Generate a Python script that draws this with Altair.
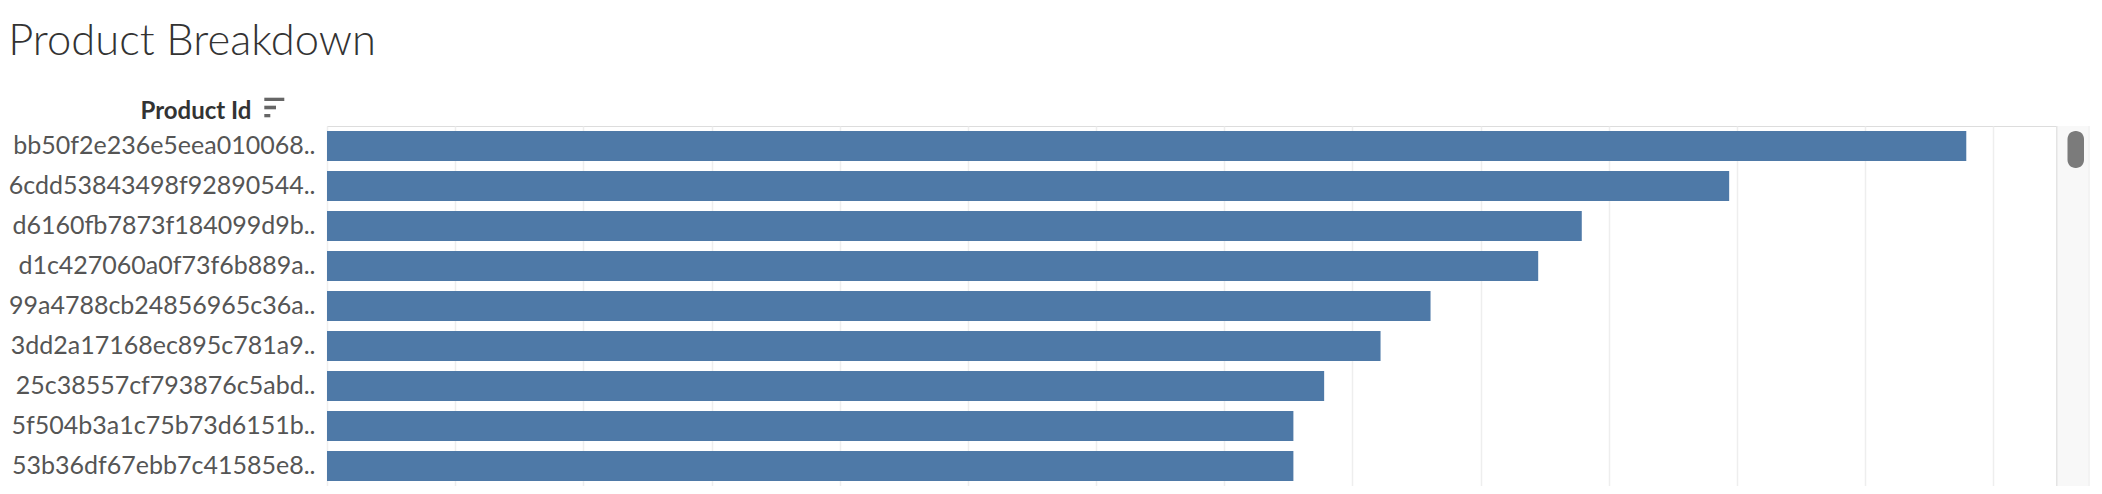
import altair as alt
import pandas as pd

# ---- data ----
product_ids = [
    "bb50f2e236e5eea010068..",
    "6cdd53843498f92890544..",
    "d6160fb7873f184099d9b..",
    "d1c427060a0f73f6b889a..",
    "99a4788cb24856965c36a..",
    "3dd2a17168ec895c781a9..",
    "25c38557cf793876c5abd..",
    "5f504b3a1c75b73d6151b..",
    "53b36df67ebb7c41585e8..",
]
values = [12.79, 10.94, 9.79, 9.45, 8.61, 8.22, 7.78, 7.54, 7.54]
grid_values = list(range(0, 14))
x_max = 13.49

df = pd.DataFrame({"Product Id": product_ids, "Value": values})
one = pd.DataFrame({"k": [0]})

W = 1729
H = 360
FONT = "Lato"

bars = alt.Chart(df).mark_bar(color="#4e79a7").encode(
    x=alt.X(
        "Value:Q",
        scale=alt.Scale(domain=[0, x_max], nice=False, zero=True),
        axis=alt.Axis(
            values=grid_values, labels=False, ticks=False, domain=False,
            title=None, grid=True, gridColor="#eeeeee", gridWidth=1.5,
        ),
    ),
    y=alt.Y(
        "Product Id:N",
        sort=product_ids,
        scale=alt.Scale(paddingInner=0.25, paddingOuter=0.125),
        axis=alt.Axis(
            title="Product Id", titleAngle=0, titleAlign="left",
            titleBaseline="alphabetic", titleX=-187, titleY=-8,
            titleFont=FONT, titleFontSize=24, titleFontWeight="bold",
            titleColor="#333333",
            labelFont=FONT, labelFontSize=25, labelColor="#555555",
            labelPadding=12, labelLimit=500, ticks=False, domain=False,
            grid=False,
        ),
    ),
    tooltip=["Product Id:N", "Value:Q"],
)

# sort icon next to the header
icon_top = alt.Chart(one).mark_rect(color="#666666").encode(
    x=alt.value(-62.7), x2=alt.value(-42.7), y=alt.value(-28.3), y2=alt.value(-25))
icon_mid = alt.Chart(one).mark_rect(color="#666666").encode(
    x=alt.value(-62.7), x2=alt.value(-51), y=alt.value(-20.3), y2=alt.value(-16.7))
icon_bot = alt.Chart(one).mark_rect(color="#666666").encode(
    x=alt.value(-62.7), x2=alt.value(-56.7), y=alt.value(-12), y2=alt.value(-8.7))

# scrollbar decoration at the right of the plot
track = alt.Chart(one).mark_rect(color="#f8f8f8").encode(
    x=alt.value(W), x2=alt.value(W + 34), y=alt.value(0), y2=alt.value(H))
track_l = alt.Chart(one).mark_rule(color="#e4e4e4", strokeWidth=1.5).encode(
    x=alt.value(W + 0.75), y=alt.value(0), y2=alt.value(H))
track_r = alt.Chart(one).mark_rule(color="#eeeeee", strokeWidth=1).encode(
    x=alt.value(W + 33), y=alt.value(0), y2=alt.value(H))
thumb = alt.Chart(one).mark_rect(color="#7b7b7b", cornerRadius=8).encode(
    x=alt.value(W + 11.5), x2=alt.value(W + 28), y=alt.value(5), y2=alt.value(42))

chart = alt.layer(
    bars, icon_top, icon_mid, icon_bot, track, track_l, track_r, thumb
).properties(
    width=W,
    height=H,
    title=alt.TitleParams(
        "Product Breakdown", anchor="start", frame="bounds", font=FONT,
        fontSize=43.5, fontWeight=300, color="#333333", baseline="alphabetic",
        dy=5,
    ),
    autosize=alt.AutoSizeParams(type="none"),
    padding={"left": 319, "top": 118, "right": 36, "bottom": 0},
).configure_view(strokeWidth=0).configure(background="white")

chart.save("out.html", embed_options={"renderer": "svg", "actions": False})
